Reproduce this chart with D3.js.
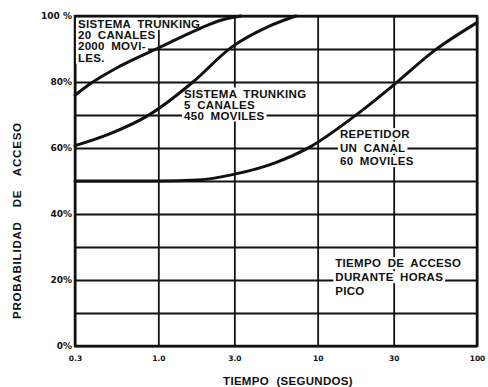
<!DOCTYPE html>
<html>
<head>
<meta charset="utf-8">
<script src="https://cdn.jsdelivr.net/npm/d3@7/dist/d3.min.js"></script>
<style>
	body { margin: 0; background: #fff; }
	svg { display: block; }
	text { font-family: "Liberation Sans", Arial, sans-serif; font-weight: bold; fill: #111; }
</style>
</head>
<body>
<svg id="chart" width="488" height="387"></svg>
<script>
// eje x: tiempo en segundos (escala log), eje y: probabilidad en %
var tiempoTicks = [0.3, 1, 3, 10, 30, 100];
var tiempoLabels = ["0.3", "1.0", "3.0", "10", "30", "100"];
var probTicks = [0, 10, 20, 30, 40, 50, 60, 70, 80, 90, 100];
var probLabels = ["0%", "", "20%", "", "40%", "", "60%", "", "80%", "", "100 %"];

// curvas [tiempo, probabilidad]
var trunking20 = [[0.3, 76], [0.372, 79.4], [0.574, 84.8], [1.02, 90.5], [1.82, 96.2], [2.5, 98.8], [3.3, 100]];
var trunking5 = [[0.3, 60.7], [0.49, 64.2], [0.86, 69.8], [1.65, 80], [2.87, 90.5], [4.9, 96.8], [7.3, 100]];
var repetidor = [[0.3, 50], [1, 50], [1.77, 50.3], [2.97, 52], [5.4, 55.5], [8.8, 60.1], [17.2, 69.8], [30, 79.1], [54, 89.5], [100, 98]];

// rotulos dentro del grafico
var rotulo20 = ["SISTEMA TRUNKING", "20 CANALES", "2000 MOVI-", "LES."];
var rotulo5 = ["SISTEMA TRUNKING", "5 CANALES", "450 MOVILES"];
var rotuloRep = ["REPETIDOR", "UN CANAL", "60 MOVILES"];
var rotuloHora = ["TIEMPO DE ACCESO", "DURANTE HORAS", "PICO"];

var margin = {top: 16, right: 11, bottom: 41, left: 75};
var svg = d3.select("#chart");
var width = +svg.attr("width") - margin.left - margin.right;
var height = +svg.attr("height") - margin.top - margin.bottom;

var x = d3.scaleLog().domain([0.3, 100]).range([0, width]);
var y = d3.scaleLinear().domain([0, 100]).range([height, 0]);

var g = svg.append("g").attr("transform", "translate(" + margin.left + "," + margin.top + ")");

/*
 * rejilla + etiquetas de los ejes
 */
var xAxis = g.append("g")
	.attr("transform", "translate(0," + height + ")")
	.call(d3.axisBottom(x)
		.tickValues(tiempoTicks)
		.tickSize(-height)
		.tickPadding(10)
		.tickFormat(function(d, i) { return tiempoLabels[i]; }));

var yAxis = g.append("g")
	.call(d3.axisLeft(y)
		.tickValues(probTicks)
		.tickSize(-width)
		.tickPadding(3)
		.tickFormat(function(d, i) { return probLabels[i]; }));

[xAxis, yAxis].forEach(function(ax) {
	ax.select(".domain").remove();
	ax.selectAll(".tick line").attr("stroke", "#111").attr("stroke-width", 1.8);
	ax.selectAll(".tick text")
		.style("font-family", "'DejaVu Sans', sans-serif")
		.attr("fill", "#111");
});
xAxis.selectAll(".tick text").style("font-size", "7.5px");
yAxis.selectAll(".tick text").style("font-size", "9px");

g.append("rect")
	.attr("width", width)
	.attr("height", height)
	.attr("fill", "none")
	.attr("stroke", "#111")
	.attr("stroke-width", 2.5);

/*
 * rotulos con fondo blanco (tapan la rejilla)
 */
function rotulo(lines, t, p, lh) {
	var grp = g.append("g").attr("transform", "translate(" + x(t) + "," + y(p) + ")");
	var bg = grp.append("g");
	lines.forEach(function(s, i) {
		var txt = grp.append("text")
			.attr("y", i * lh)
			.style("font-size", "11.5px")
			.style("letter-spacing", "0.3px")
			.style("word-spacing", "3px")
			.text(s);
		var b = txt.node().getBBox();
		bg.append("rect")
			.attr("x", b.x - 2)
			.attr("y", b.y)
			.attr("width", b.width + 4)
			.attr("height", b.height)
			.attr("fill", "#fff");
	});
}

rotulo(rotulo20, 0.313, 96.4, 11.3);
rotulo(rotulo5, 1.45, 75.3, 11);
rotulo(rotuloRep, 13.8, 63, 13.5);
rotulo(rotuloHora, 12.9, 23.9, 14);

/*
 * curvas
 */
var line = d3.line()
	.x(function(d) { return x(d[0]); })
	.y(function(d) { return y(d[1]); })
	.curve(d3.curveMonotoneX);

[trunking20, trunking5, repetidor].forEach(function(serie) {
	g.append("path")
		.datum(serie)
		.attr("d", line)
		.attr("fill", "none")
		.attr("stroke", "#111")
		.attr("stroke-width", 3)
		.attr("stroke-linecap", "round");
});

/*
 * titulos de los ejes
 */
svg.append("text")
	.attr("x", 288)
	.attr("y", 385)
	.attr("text-anchor", "middle")
	.style("font-size", "11.5px")
	.style("letter-spacing", "0.3px")
	.style("word-spacing", "4px")
	.text("TIEMPO (SEGUNDOS)");

svg.append("text")
	.attr("transform", "translate(21," + (margin.top + y(38)) + ") rotate(-90)")
	.attr("text-anchor", "middle")
	.style("font-size", "11.5px")
	.style("letter-spacing", "0.8px")
	.style("word-spacing", "10px")
	.text("PROBABILIDAD DE ACCESO");
</script>
</body>
</html>
